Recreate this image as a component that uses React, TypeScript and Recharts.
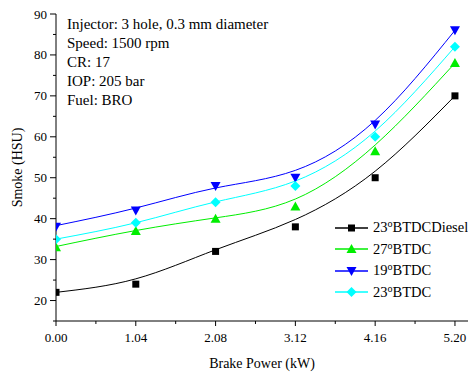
import { LineChart, Line, XAxis, YAxis } from 'recharts';

const power = [0, 1.04, 2.08, 3.12, 4.16, 5.2];
const diesel23 = [22, 24, 32, 38, 50, 70];
const btdc27 = [33, 37, 40, 43, 56.5, 78];
const btdc19 = [38, 42, 48, 50, 63, 86];
const btdc23 = [35, 39, 44, 48, 60, 82];

// fitted curves at each power step
const diesel23Fit = [22, 25.3, 32.4, 39.8, 51.6, 70];
const btdc27Fit = [33.2, 37.1, 40.2, 44.8, 58, 78];
const btdc19Fit = [38.3, 42.6, 47.5, 51.8, 64, 86];
const btdc23Fit = [35, 39, 44.1, 49.2, 61.4, 82];

const xTicks = [0, 0.52, 1.04, 1.56, 2.08, 2.6, 3.12, 3.64, 4.16, 4.68, 5.2];
const xMajor = [0, 1.04, 2.08, 3.12, 4.16, 5.2];
const yTicks = [15, 20, 25, 30, 35, 40, 45, 50, 55, 60, 65, 70, 75, 80, 85, 90];
const yMajor = [20, 30, 40, 50, 60, 70, 80, 90];

const notes = ['Injector: 3 hole, 0.3 mm diameter', 'Speed: 1500 rpm', 'CR: 17', 'IOP: 205 bar', 'Fuel: BRO'];

const data = power.map((p, i) => ({
  power: p,
  diesel23: diesel23[i],
  btdc27: btdc27[i],
  btdc19: btdc19[i],
  btdc23: btdc23[i],
  diesel23Fit: diesel23Fit[i],
  btdc27Fit: btdc27Fit[i],
  btdc19Fit: btdc19Fit[i],
  btdc23Fit: btdc23Fit[i],
}));

const FONT = '"Liberation Serif", "Times New Roman", serif';

const series = [
  { key: 'diesel23', label: '23', suffix: 'BTDCDiesel', color: '#000000', shape: 'square' },
  { key: 'btdc27', label: '27', suffix: 'BTDC', color: '#00ee00', shape: 'up' },
  { key: 'btdc19', label: '19', suffix: 'BTDC', color: '#0000ff', shape: 'down' },
  { key: 'btdc23', label: '23', suffix: 'BTDC', color: '#00ffff', shape: 'diamond' },
];

function Marker({ cx, cy, shape, color }: any) {
  if (cx == null || cy == null) return null;
  if (shape === 'square') return <rect x={cx - 3.5} y={cy - 3.5} width={7} height={7} fill={color} />;
  if (shape === 'up') return <polygon points={`${cx},${cy - 5} ${cx + 5},${cy + 4} ${cx - 5},${cy + 4}`} fill={color} />;
  if (shape === 'down') return <polygon points={`${cx},${cy + 5} ${cx + 5},${cy - 4} ${cx - 5},${cy - 4}`} fill={color} />;
  return <polygon points={`${cx},${cy - 5} ${cx + 5},${cy} ${cx},${cy + 5} ${cx - 5},${cy}`} fill={color} />;
}

function XTick(props: any) {
  const { x, y, payload } = props;
  const major = xMajor.includes(payload.value);
  return (
    <g>
      <line x1={x} y1={y} x2={x} y2={y + (major ? 5 : 3)} stroke="#000" />
      {major && (
        <text x={x} y={y + 16} textAnchor="middle" dominantBaseline="central" fontSize={13} fontFamily={FONT} fill="#000">
          {payload.value.toFixed(2)}
        </text>
      )}
    </g>
  );
}

function YTick(props: any) {
  const { x, y, payload } = props;
  const major = yMajor.includes(payload.value);
  return (
    <g>
      <line x1={x} y1={y} x2={x - (major ? 6 : 3)} y2={y} stroke="#000" />
      {major && (
        <text x={x - 9} y={y} textAnchor="end" dominantBaseline="central" fontSize={13} fontFamily={FONT} fill="#000">
          {payload.value}
        </text>
      )}
    </g>
  );
}

export default function App() {
  return (
    <div style={{ position: 'absolute', left: 0, top: 0, width: 468, height: 374, fontFamily: FONT, background: '#fff' }}>
      <LineChart width={468} height={374} data={data} margin={{ top: 14, right: 0, bottom: 0, left: 0 }}>
        <XAxis
          type="number"
          dataKey="power"
          domain={[0, 5.37]}
          ticks={xTicks}
          interval={0}
          tick={<XTick />}
          tickLine={false}
          tickSize={0}
          tickMargin={0}
          height={53}
          stroke="#000"
          allowDataOverflow
          label={{ value: 'Brake Power (kW)', position: 'insideBottom', offset: 6, fill: '#000', style: { fontFamily: FONT, fontSize: 14 } }}
        />
        <YAxis
          type="number"
          domain={[15, 90]}
          ticks={yTicks}
          interval={0}
          tick={<YTick />}
          tickLine={false}
          tickSize={0}
          tickMargin={0}
          width={56}
          stroke="#000"
          allowDataOverflow
          label={{ value: 'Smoke (HSU)', angle: -90, position: 'insideLeft', offset: 17, fill: '#000', style: { textAnchor: 'middle', fontFamily: FONT, fontSize: 14 } }}
        />
        {series.map((s) => (
          <Line
            key={s.key + 'Fit'}
            dataKey={s.key + 'Fit'}
            type="natural"
            stroke={s.color}
            strokeWidth={1}
            dot={false}
            activeDot={false}
            isAnimationActive={false}
          />
        ))}
        {series.map((s) => (
          <Line
            key={s.key}
            dataKey={s.key}
            stroke="none"
            dot={(p: any) => <Marker key={p.index} cx={p.cx} cy={p.cy} shape={s.shape} color={s.color} />}
            activeDot={false}
            isAnimationActive={false}
          />
        ))}
      </LineChart>

      <div style={{ position: 'absolute', left: 67, top: 15, fontSize: 15, lineHeight: '19px', color: '#000' }}>
        {notes.map((n) => (
          <div key={n}>{n}</div>
        ))}
      </div>

      <div style={{ position: 'absolute', left: 335, top: 217, fontSize: 14.5, color: '#000' }}>
        {series.map((s) => (
          <div key={s.key} style={{ display: 'flex', alignItems: 'center', height: 21.5, whiteSpace: 'nowrap' }}>
            <svg width={33} height={12} style={{ flex: 'none' }}>
              <line x1={0} y1={6} x2={33} y2={6} stroke={s.color} strokeWidth={1.5} />
              <Marker cx={16.5} cy={6} shape={s.shape} color={s.color} />
            </svg>
            <span style={{ marginLeft: 5 }}>
              {s.label}
              <span style={{ fontSize: 10, position: 'relative', top: -5 }}>o</span>
              {s.suffix}
            </span>
          </div>
        ))}
      </div>
    </div>
  );
}
